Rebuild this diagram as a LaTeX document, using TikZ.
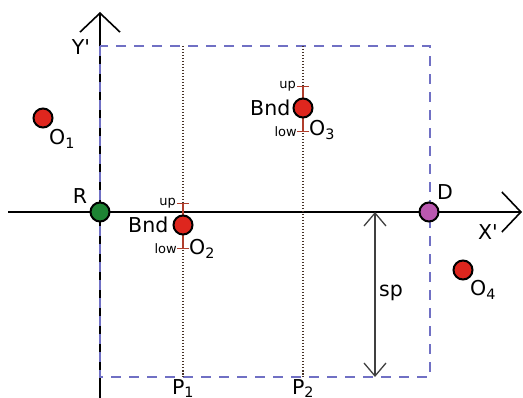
\documentclass[tikz,border=0pt]{standalone}
\usepackage{fontspec}
\setmainfont{DejaVu Sans}
\usepackage{xcolor}
\usetikzlibrary{arrows.meta, positioning}

\definecolor{boxblue}{RGB}{112,112,196}
\definecolor{objred}{RGB}{222,38,30}
\definecolor{refgreen}{RGB}{30,132,52}
\definecolor{dstpurple}{RGB}{186,88,176}
\definecolor{bndred}{RGB}{176,62,44}
\definecolor{pathgray}{RGB}{70,50,40}

\begin{document}
\begin{tikzpicture}[x=1pt, y=-1pt,
    axis/.style={line width=1.6pt, -{Straight Barb[length=19pt, width=40pt]}},
    dot/.style={circle, draw=black, line width=2pt, minimum size=19pt, inner sep=0pt},
    obj/.style={dot, fill=objred},
    bound/.style={draw=bndred, line width=1.4pt, {Bar[width=12pt]}-{Bar[width=12pt]}},
    pline/.style={draw=pathgray, line width=1.7pt, dash pattern=on 1.5pt off 1.5pt},
    big/.style={font=\fontsize{20.5}{20.5}\selectfont, inner sep=0pt},
    small/.style={font=\fontsize{13}{13}\selectfont, inner sep=0pt}]
    \useasboundingbox (0,0) rectangle (523,398);

    % axes
    \coordinate (xs) at (8,212);
    \coordinate (xe) at (522,212);
    \coordinate (ys) at (100,398);
    \coordinate (ye) at (100,12);
    \draw[axis] (xs) -- (xe);
    \draw[axis] (ys) -- (ye);
    \node[big] (xlab) at (488,232) {X\textquotesingle};
    \node[big] (ylab) at (81,47) {Y\textquotesingle};

    % search area
    \draw[boxblue, line width=1.6pt, dash pattern=on 10pt off 8pt]
        (100,46) rectangle (430,377);

    % paths P1, P2
    \coordinate (p1t) at (183,46);
    \coordinate (p1b) at (183,377);
    \coordinate (p2t) at (303,46);
    \coordinate (p2b) at (303,377);
    \draw[pline] (p1t) -- (p1b);
    \draw[pline] (p2t) -- (p2b);
    \node[big, below=2pt of p1b] (p1lab) {P\textsubscript{1}};
    \node[big, below=2pt of p2b] (p2lab) {P\textsubscript{2}};

    % sp
    \coordinate (spt) at (375,212);
    \coordinate (spb) at (375,377);
    \draw[black!75, line width=1.3pt,
        {Straight Barb[length=13pt, width=22pt]}-{Straight Barb[length=13pt, width=22pt]}]
        (spt) -- (spb);
    \node[big] (splab) at (391,293) {sp};

    % bounds of O2 and O3
    \coordinate (up2) at (183,203);
    \coordinate (low2) at (183,249);
    \coordinate (up3) at (303,86);
    \coordinate (low3) at (303,132);
    \draw[bound] (up2) -- (low2);
    \draw[bound] (up3) -- (low3);
    \node[small, left=7pt of up2] (up2lab) {up};
    \node[small, left=6pt of low2] (low2lab) {low};
    \node[small, left=7pt of up3] (up3lab) {up};
    \node[small, left=6pt of low3] (low3lab) {low};

    % R and D
    \node[dot, fill=refgreen] (r) at (100,212) {};
    \node[dot, fill=dstpurple] (d) at (429,212) {};
    \node[big] (rlab) at (80,196) {R};
    \node[big] (dlab) at (445,192) {D};

    % obstacles
    \node[obj] (o1) at (43,118) {};
    \node[obj] (o2) at (183,225) {};
    \node[obj] (o3) at (303,108) {};
    \node[obj] (o4) at (463,270) {};
    \node[big] (o1lab) at (62,139) {O\textsubscript{1}};
    \node[big] (o2lab) at (202,249) {O\textsubscript{2}};
    \node[big] (o3lab) at (322,130) {O\textsubscript{3}};
    \node[big] (o4lab) at (483,290) {O\textsubscript{4}};
    \node[big, left=4pt of o2] (bnd2) {Bnd};
    \node[big, left=2pt of o3] (bnd3) {Bnd};
\end{tikzpicture}
\end{document}
